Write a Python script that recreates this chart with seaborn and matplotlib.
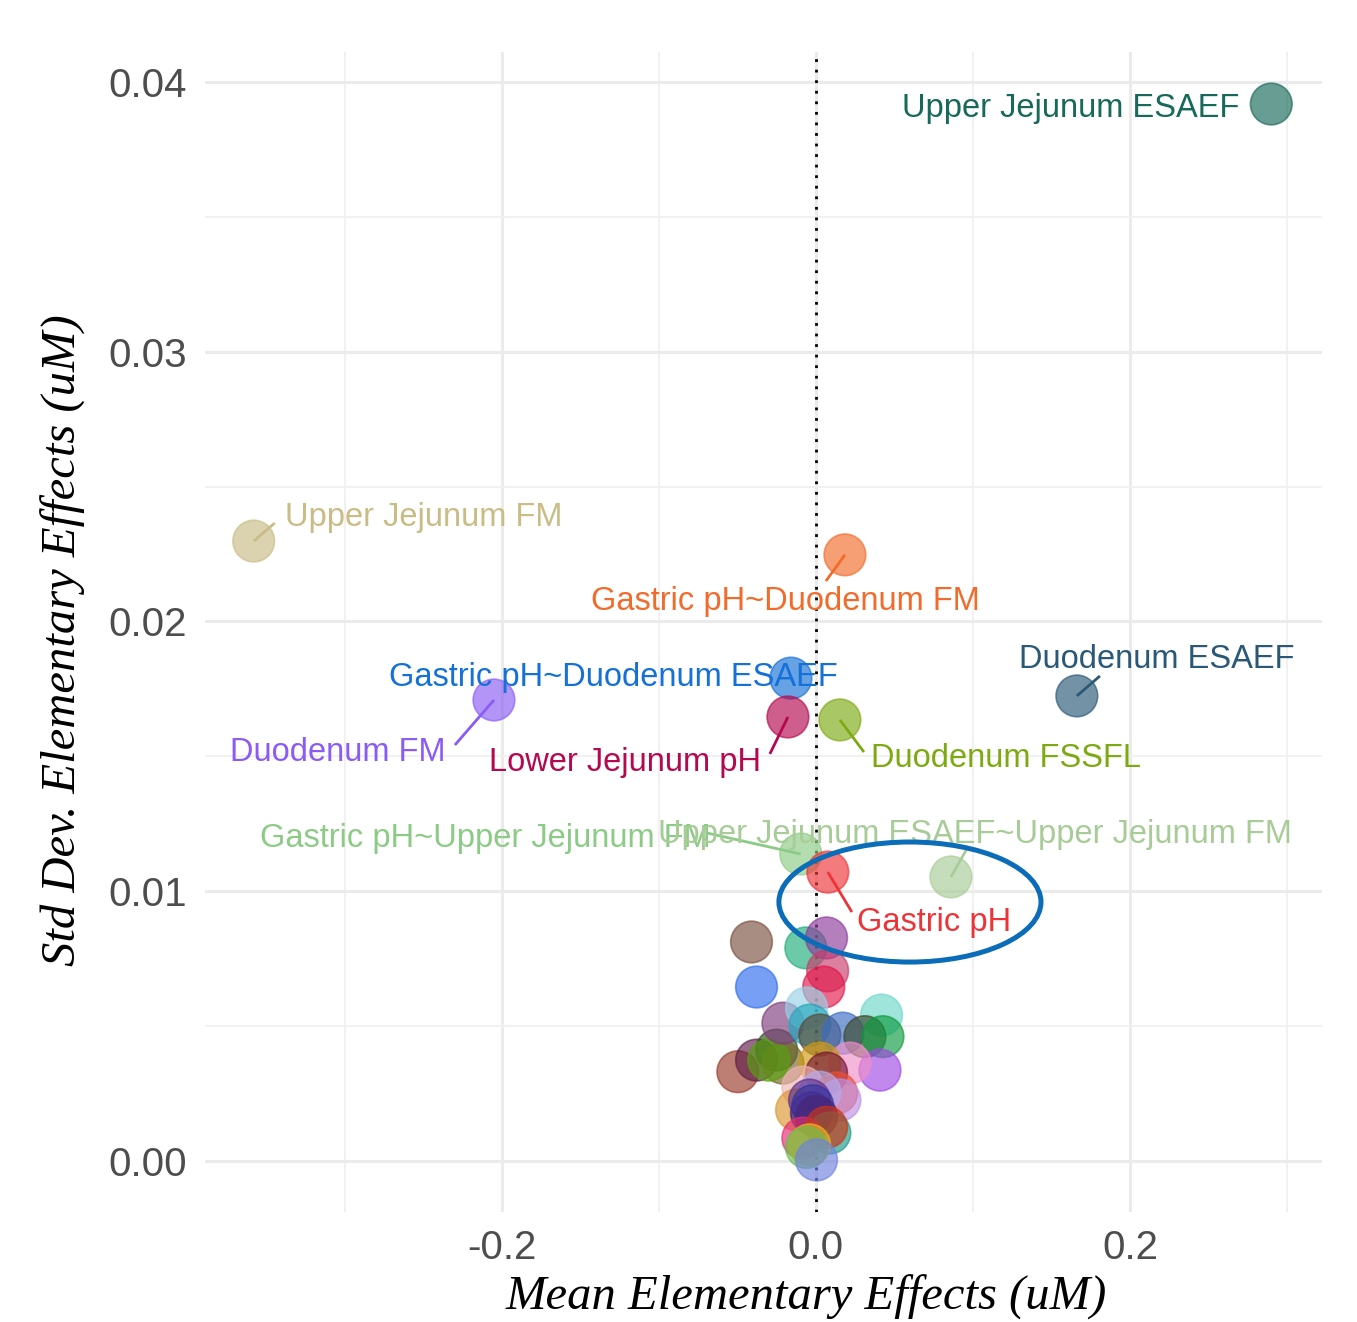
import matplotlib
matplotlib.use("Agg")
import matplotlib.pyplot as plt
from matplotlib.patches import Ellipse
from matplotlib.ticker import FixedLocator
import seaborn as sns
import pandas as pd

# Morris screening results: labelled parameters
labels = [
    "Upper Jejunum ESAEF", "Upper Jejunum FM", "Gastric pH~Duodenum FM",
    "Gastric pH~Duodenum ESAEF", "Duodenum FM", "Lower Jejunum pH",
    "Duodenum FSSFL", "Duodenum ESAEF", "Gastric pH~Upper Jejunum FM",
    "Upper Jejunum ESAEF~Upper Jejunum FM", "Gastric pH",
]
label_mu = [0.290, -0.358, 0.0185, -0.0159, -0.205, -0.0178, 0.0153, 0.1662,
            -0.0096, 0.086, 0.0076]
label_sigma = [0.03918, 0.02298, 0.02247, 0.0179, 0.01709, 0.01646, 0.01635,
               0.01724, 0.01138, 0.01053, 0.01071]
label_colors = ["#17695A", "#C9BC86", "#F26B2A", "#1570D8", "#8A5CF5", "#B5094F",
                "#7DAA12", "#2A5877", "#8CCB85", "#A8CC98", "#EE3338"]

# remaining (unlabelled) parameters
other_mu = [-0.0497, -0.0378, -0.025, -0.021, -0.030, -0.041, -0.0378, -0.021,
            -0.0064, 0.0068, 0.0075, 0.005, -0.0059, -0.0038, 0.0025, 0.0172,
            0.0418, 0.0312, 0.0427, 0.0408, 0.0217, 0.0025, 0.0068, -0.0083,
            0.0132, 0.0153, 0.0025, -0.0123, -0.0028, -0.004, 0.0004, -0.002,
            0.0089, -0.0083, 0.0068, -0.004, -0.006, 0.0004]
other_sigma = [0.00331, 0.00374, 0.00411, 0.00363, 0.00374, 0.00812, 0.00645, 0.00511,
               0.0079, 0.00827, 0.00705, 0.00645, 0.00567, 0.00504, 0.00467, 0.00474,
               0.00541, 0.00461, 0.00461, 0.00337, 0.00363, 0.00363, 0.00326, 0.00274,
               0.00252, 0.00226, 0.00255, 0.00189, 0.00178, 0.00226, 0.00165, 0.00205,
               0.00104, 0.00085, 0.00125, 0.0006, 0.0005, 0.00004]
other_colors = ["#9A3A2A", "#5E1E48", "#2E4E1E", "#786628", "#58A010", "#7A5040",
                "#2E6CEE", "#7E3C7E", "#1FAE7A", "#8E3A9C", "#C83C6C", "#E2184A",
                "#98D2E6", "#20A8BC", "#5A4834", "#3A6CC4", "#6ED8CA", "#3A4828",
                "#0C9A3E", "#A048E6", "#F090C8", "#D09A10", "#741434", "#F0B4B4",
                "#EE4E2E", "#BC90E6", "#B4ACF0", "#DC9630", "#3E1474", "#5E2E8C",
                "#6C0C24", "#3434A0", "#1A9888", "#E42C74", "#CC3414", "#E6B820",
                "#6CBC4C", "#6E82E0"]

names = [f"p{i}" for i in range(len(other_mu))] + labels
df = pd.DataFrame({
    "name": names,
    "mu": other_mu + label_mu,
    "sigma": other_sigma + label_sigma,
})
palette = dict(zip(names, other_colors + label_colors))

# label placement (data coordinates): text centre, alignment, leader line end
label_text_xy = {
    "Upper Jejunum ESAEF": (0.270, 0.03900, "right"),
    "Upper Jejunum FM": (-0.3382, 0.02385, "left"),
    "Gastric pH~Duodenum FM": (-0.0197, 0.02073, "center"),
    "Gastric pH~Duodenum ESAEF": (-0.1287, 0.01792, "center"),
    "Duodenum FM": (-0.3045, 0.01514, "center"),
    "Lower Jejunum pH": (-0.1217, 0.01477, "center"),
    "Duodenum FSSFL": (0.121, 0.01491, "center"),
    "Duodenum ESAEF": (0.2172, 0.01858, "center"),
    "Gastric pH~Upper Jejunum FM": (-0.2102, 0.01195, "center"),
    "Upper Jejunum ESAEF~Upper Jejunum FM": (0.1013, 0.0121, "center"),
    "Gastric pH": (0.0752, 0.00883, "center"),
}
segment_end = {
    "Upper Jejunum FM": (-0.3446, 0.02365),
    "Gastric pH~Duodenum FM": (0.0064, 0.02150),
    "Duodenum FM": (-0.2299, 0.01542),
    "Lower Jejunum pH": (-0.0293, 0.01509),
    "Duodenum FSSFL": (0.0306, 0.01516),
    "Duodenum ESAEF": (0.1809, 0.01798),
    "Gastric pH~Upper Jejunum FM": (-0.0694, 0.01216),
    "Upper Jejunum ESAEF~Upper Jejunum FM": (0.0968, 0.01164),
    "Gastric pH": (0.0229, 0.00923),
}

sns.set_theme(style="white")
plt.rcParams["font.family"] = ["Liberation Sans", "DejaVu Sans"]

fig = plt.figure(figsize=(13.57, 13.22), dpi=100)
ax = fig.add_axes([0.1511, 0.0832, 0.8231, 0.8775])

ax.set_xlim(-0.389, 0.3223)
ax.set_ylim(-0.00189, 0.04111)

# grid in the style of a minimal theme
ax.xaxis.set_major_locator(FixedLocator([-0.2, 0.0, 0.2]))
ax.xaxis.set_minor_locator(FixedLocator([-0.3, -0.1, 0.1, 0.3]))
ax.yaxis.set_major_locator(FixedLocator([0.0, 0.01, 0.02, 0.03, 0.04]))
ax.yaxis.set_minor_locator(FixedLocator([0.005, 0.015, 0.025, 0.035]))
ax.grid(which="major", color="#EBEBEB", linewidth=2.2)
ax.grid(which="minor", color="#F0F0F0", linewidth=1.3)
ax.set_axisbelow(True)
for s in ax.spines.values():
    s.set_visible(False)
ax.tick_params(which="both", length=0)
ax.tick_params(axis="y", pad=13, labelsize=29, labelcolor="#4D4D4D")
ax.tick_params(axis="x", pad=12, labelsize=29, labelcolor="#4D4D4D")
ax.set_xticklabels(["-0.2", "0.0", "0.2"])
ax.set_yticklabels(["0.00", "0.01", "0.02", "0.03", "0.04"])

ax.axvline(0, color="black", linestyle=(0, (1, 2.8)), linewidth=2.0, zorder=1)

sns.scatterplot(data=df, x="mu", y="sigma", hue="name", palette=palette,
                s=900, alpha=0.65, edgecolor="face", linewidth=1.2,
                legend=False, ax=ax, zorder=3)

for name, mu, sig, col in zip(labels, label_mu, label_sigma, label_colors):
    tx, ty, ha = label_text_xy[name]
    if name in segment_end:
        ex, ey = segment_end[name]
        ax.plot([mu, ex], [sig, ey], color=col, linewidth=2.0, zorder=4,
                solid_capstyle="butt")
    ax.text(tx, ty, name, color=col, fontsize=23.5, ha=ha, va="center",
            zorder=5)

ax.add_patch(Ellipse((0.0599, 0.0096), 0.1669, 0.00445, fill=False,
                     edgecolor="#0B6CB8", linewidth=3.6, zorder=6))

ax.set_xlabel("Mean Elementary Effects (uM)", fontsize=35, fontstyle="italic",
              family=["Liberation Serif", "DejaVu Serif"], color="black")
ax.set_ylabel("Std Dev. Elementary Effects (uM)", fontsize=35, fontstyle="italic",
              family=["Liberation Serif", "DejaVu Serif"], color="black")
ax.xaxis.set_label_coords(0.538, -0.054)
ax.yaxis.set_label_coords(-0.107, 0.493)

fig.savefig("out.png", dpi=100, facecolor="white")
